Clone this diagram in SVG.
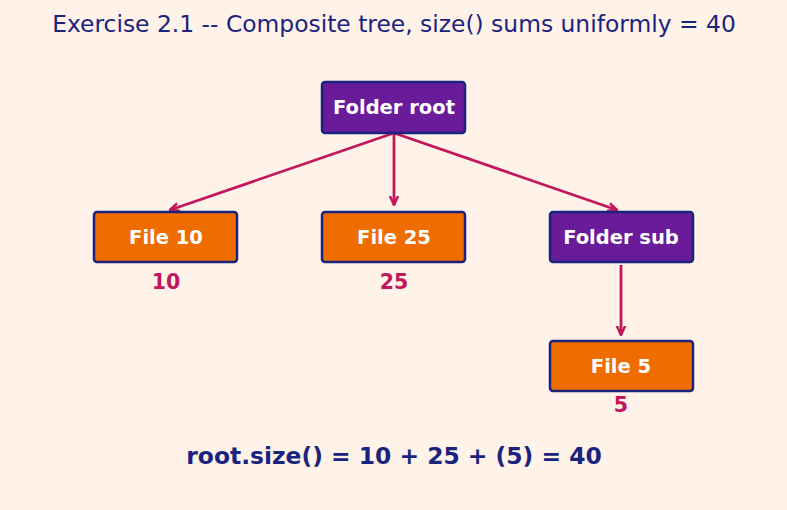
<svg xmlns="http://www.w3.org/2000/svg" width="787" height="510" viewBox="0 0 787 510">
<defs>
<style>
.box{stroke:#1a237e;stroke-width:2.5}
.folder{fill:#6a1b9a}
.file{fill:#ef6c00}
.lbl{font-family:"DejaVu Sans",sans-serif;font-weight:bold;font-size:19.5px;fill:#ffffff;text-anchor:middle}
.val{font-family:"DejaVu Sans",sans-serif;font-weight:bold;font-size:20.5px;fill:#c2185b;text-anchor:middle}
.edge{stroke:#c2185b;stroke-width:2.8;fill:none;marker-end:url(#ah)}
</style>
<marker id="ah" viewBox="0 0 12 12" refX="11" refY="6" markerWidth="10" markerHeight="10" markerUnits="userSpaceOnUse" orient="auto">
<path d="M1,1.5 L11,6 L1,10.5" fill="none" stroke="#c2185b" stroke-width="3" stroke-linecap="round" stroke-linejoin="round"/>
</marker>
</defs>
<rect width="787" height="510" fill="#fff2e8"/>
<text x="394" y="32" font-family="DejaVu Sans,sans-serif" font-size="23.4" fill="#1a237e" text-anchor="middle">Exercise 2.1 -- Composite tree, size() sums uniformly = 40</text>
<g id="connectors">
<line class="edge" x1="394" y1="133" x2="170" y2="210"/>
<line class="edge" x1="394" y1="133" x2="394" y2="205"/>
<line class="edge" x1="394" y1="133" x2="617" y2="210"/>
<line class="edge" x1="621" y1="265" x2="621" y2="335"/>
</g>
<g id="root">
<rect class="box folder" x="322" y="82" width="143" height="51" rx="3"/>
<text class="lbl" x="394" y="114">Folder root</text>
</g>
<g id="file10">
<rect class="box file" x="94" y="212" width="143" height="50" rx="3"/>
<text class="lbl" x="166" y="244">File 10</text>
<text class="val" x="166" y="289">10</text>
</g>
<g id="file25">
<rect class="box file" x="322" y="212" width="143" height="50" rx="3"/>
<text class="lbl" x="394" y="244">File 25</text>
<text class="val" x="394" y="289">25</text>
</g>
<g id="sub">
<rect class="box folder" x="550" y="212" width="143" height="50" rx="3"/>
<text class="lbl" x="621" y="244">Folder sub</text>
</g>
<g id="file5">
<rect class="box file" x="550" y="341" width="143" height="50" rx="3"/>
<text class="lbl" x="621" y="373">File 5</text>
<text class="val" x="621" y="412">5</text>
</g>
<text x="394" y="464" font-family="DejaVu Sans,sans-serif" font-weight="bold" font-size="23.4" fill="#1a237e" text-anchor="middle">root.size() = 10 + 25 + (5) = 40</text>
</svg>
